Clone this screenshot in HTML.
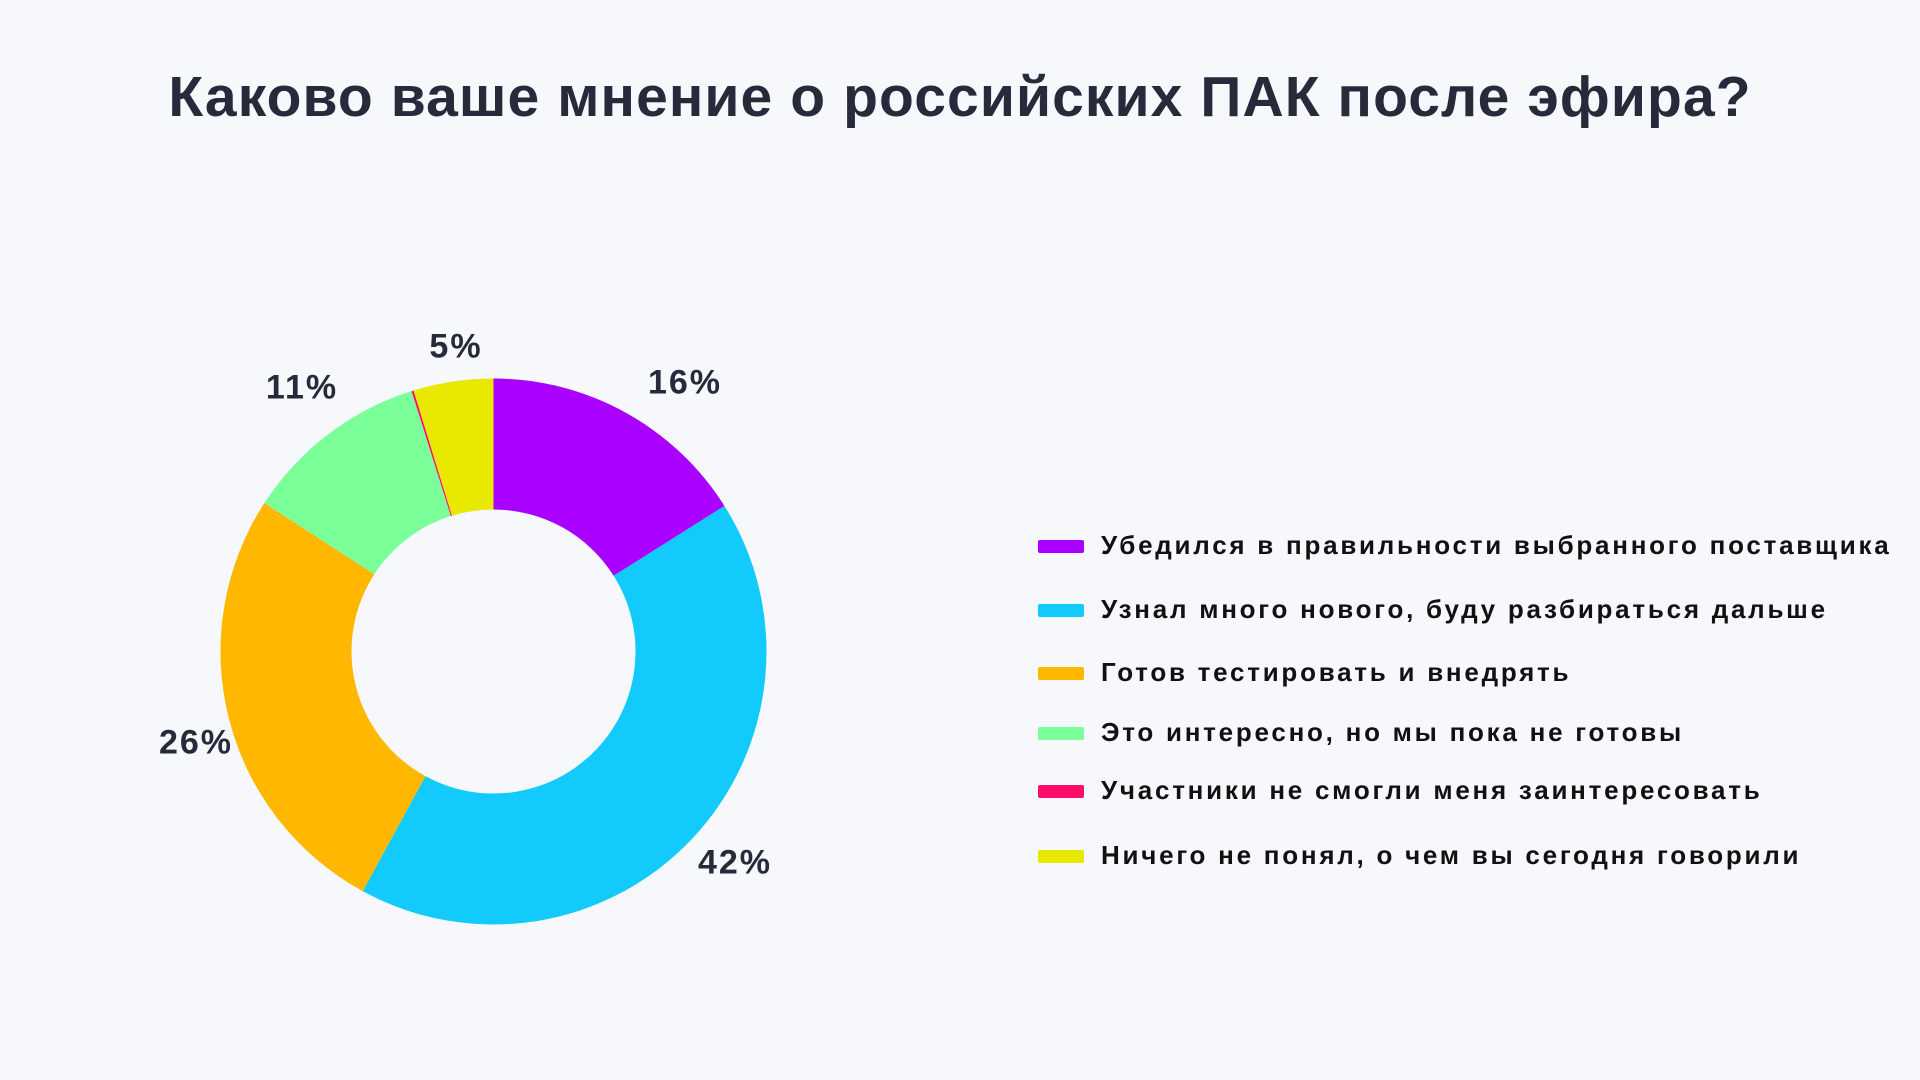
<!DOCTYPE html>
<html><head><meta charset="utf-8"><style>
html,body{margin:0;padding:0;background:#f6f8fb;}
body{width:1920px;height:1080px;position:relative;overflow:hidden;font-family:"Liberation Sans","DejaVu Sans",sans-serif;color:#262a3a;}
h1{position:absolute;left:0;width:1920px;top:64px;margin:0;text-align:center;font-size:57px;font-weight:bold;letter-spacing:1.1px;}
.lg{position:absolute;left:1038px;font-size:26px;font-weight:bold;color:#111;letter-spacing:2.75px;}
.lg i{position:absolute;left:0;top:10px;width:46px;height:13px;border-radius:2px;}
.lg span{position:absolute;left:63px;top:0;white-space:nowrap;}
.pl{position:absolute;font-size:34px;font-weight:bold;transform:translate(-50%,-50%);white-space:nowrap;letter-spacing:2px;}
</style></head><body>
<h1>Каково ваше мнение о российских ПАК после эфира?</h1>
<svg id="s" width="1920" height="1080" style="position:absolute;left:0;top:0"></svg>
<div class="pl" style="left:685px;top:383px">16%</div>
<div class="pl" style="left:735px;top:863px">42%</div>
<div class="pl" style="left:196px;top:743px">26%</div>
<div class="pl" style="left:302px;top:388px">11%</div>
<div class="pl" style="left:456px;top:347px">5%</div>
<div class="lg" style="top:530px"><i style="background:#aa00ff"></i><span>Убедился в правильности выбранного поставщика</span></div>
<div class="lg" style="top:594px"><i style="background:#12cbfc"></i><span>Узнал много нового, буду разбираться дальше</span></div>
<div class="lg" style="top:657px"><i style="background:#ffb700"></i><span>Готов тестировать и внедрять</span></div>
<div class="lg" style="top:717px"><i style="background:#7bff99"></i><span>Это интересно, но мы пока не готовы</span></div>
<div class="lg" style="top:775px"><i style="background:#ff0d6a"></i><span>Участники не смогли меня заинтересовать</span></div>
<div class="lg" style="top:840px"><i style="background:#e8e800"></i><span>Ничего не понял, о чем вы сегодня говорили</span></div>
<script>
var cx=493.5,cy=651.5,R=273,r=142;
var d=[[16.05,"#aa00ff"],[41.9,"#12cbfc"],[26.2,"#ffb700"],[11.0,"#7bff99"],[0.12,"#ff0d6a"],[4.73,"#e8e800"]];
var tot=0;d.forEach(function(x){tot+=x[0]});
var a=0,h="";
function p(rad,ang){return (cx+rad*Math.sin(ang)).toFixed(2)+" "+(cy-rad*Math.cos(ang)).toFixed(2);}
d.forEach(function(x){
 var a0=a/tot*2*Math.PI;a+=x[0];var a1=a/tot*2*Math.PI;var lg=(a1-a0)>Math.PI?1:0;
 h+='<path fill="'+x[1]+'" d="M'+p(R,a0)+' A'+R+' '+R+' 0 '+lg+' 1 '+p(R,a1)+' L'+p(r,a1)+' A'+r+' '+r+' 0 '+lg+' 0 '+p(r,a0)+' Z"/>';
});
document.getElementById("s").innerHTML=h;
</script>
</body></html>
